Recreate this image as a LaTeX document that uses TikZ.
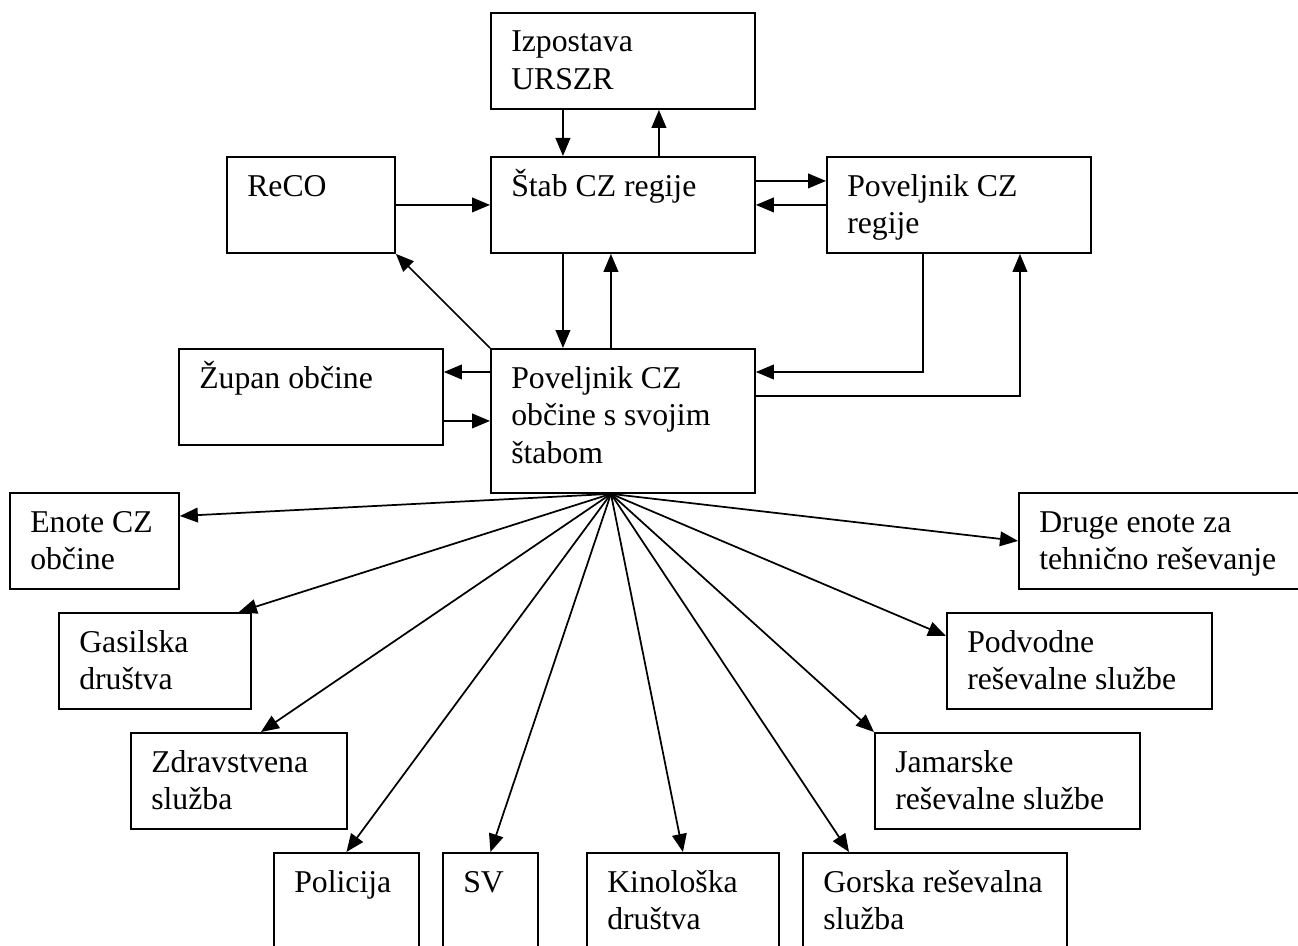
\documentclass[tikz,border=0pt]{standalone}
\usepackage{fontspec}
\setmainfont{Liberation Serif}
\usetikzlibrary{calc,arrows.meta}

\begin{document}
\begin{tikzpicture}[x=0.75pt, y=-0.75pt,
    box/.style={draw, line width=1.4pt, rectangle, inner sep=0pt, anchor=north west},
    boxtext/.style={anchor=base west, inner sep=0pt,
      font=\fontsize{23.8}{28.3}\selectfont},
    link/.style={line width=1.3pt, -{Triangle[length=13.5pt, width=11pt]}}]
  \useasboundingbox (0,0) rectangle (1298,945);

  % \unitbox{name}{x}{y}{w}{h}{text}
  % A plain box (sizes in px of the page), text set in from the top left corner.
  \newcommand{\unitbox}[6]{%
    \node[box, minimum width=#4*0.75pt, minimum height=#5*0.75pt] (#1) at (#2,#3) {};
    \node[boxtext] (#1-txt) at ($(#1.north west)+(21,40)$)
      {\begin{tabular}[t]{@{}l@{}}#6\end{tabular}};
  }

  \unitbox{izp}{490}{12}{264}{96}{Izpostava\\URSZR}
  \unitbox{reco}{226}{156}{168}{96}{ReCO}
  \unitbox{stab}{490}{156}{264}{96}{Štab CZ regije}
  \unitbox{povreg}{826}{156}{264}{96}{Poveljnik CZ\\regije}
  \unitbox{zupan}{178}{348}{264}{96}{Župan občine}
  \unitbox{povobc}{490}{348}{264}{144}{Poveljnik CZ\\občine s svojim\\štabom}

  % ---------- units under the municipal commander ----------
  \unitbox{enote}{9}{492}{169}{96}{Enote CZ\\občine}
  \unitbox{druge}{1018}{492}{290}{96}{Druge enote za\\tehnično reševanje}
  \unitbox{gas}{58}{612}{192}{96}{Gasilska\\društva}
  \unitbox{podv}{946}{612}{265}{96}{Podvodne\\reševalne službe}
  \unitbox{zdr}{130}{732}{216}{96}{Zdravstvena\\služba}
  \unitbox{jam}{874}{732}{265}{96}{Jamarske\\reševalne službe}
  \unitbox{pol}{273}{852}{145}{96}{Policija}
  \unitbox{sv}{442}{852}{95}{96}{SV}
  \unitbox{kino}{586}{852}{192}{96}{Kinološka\\društva}
  \unitbox{gorska}{802}{852}{264}{96}{Gorska reševalna\\služba}

  % ---------- regional level ----------
  \draw[link] ($(izp.south)+(-60,0)$) -- ($(stab.north)+(-60,0)$);
  \draw[link] ($(stab.north)+(36,0)$) -- ($(izp.south)+(36,0)$);
  \draw[link] (reco.east) -- (stab.west);
  \draw[link] ($(stab.east)+(0,-24)$) -- ($(povreg.west)+(0,-24)$);
  \draw[link] (povreg.west) -- (stab.east);
  \draw[link] ($(stab.south)+(-60,0)$) -- ($(povobc.north)+(-60,0)$);
  \draw[link] ($(povobc.north)+(-12,0)$) -- ($(stab.south)+(-12,0)$);
  \draw[link] (povobc.north west) -- (reco.south east);
  \draw[link] ($(povobc.north west)+(0,24)$) -- ($(zupan.north east)+(0,24)$);
  \draw[link] (povobc.west -| zupan.east) -- (povobc.west);
  \draw[link] ($(povreg.south)+(-36,0)$) |- ($(povobc.north east)+(0,24)$);
  \draw[link] ($(povobc.north east)+(0,48)$) -| ($(povreg.south)+(61,0)$);

  % ---------- fan out from the bottom of the municipal commander ----------
  \coordinate (hub) at ($(povobc.south)+(-12,0)$);
  \draw[link] (hub) -- ($(enote.north east)+(0,24)$);
  \draw[link] (hub) -- (druge.west);
  \draw[link] (hub) -- ($(gas.north east)+(-13,0)$);
  \draw[link] (hub) -- ($(podv.north west)+(0,24)$);
  \draw[link] (hub) -- ($(zdr.north)+(22,0)$);
  \draw[link] (hub) -- (jam.north west);
  \draw[link] (hub) -- (pol.north);
  \draw[link] (hub) -- (sv.north);
  \draw[link] (hub) -- (kino.north);
  \draw[link] (hub) -- ($(gorska.north west)+(47,0)$);
\end{tikzpicture}
\end{document}
